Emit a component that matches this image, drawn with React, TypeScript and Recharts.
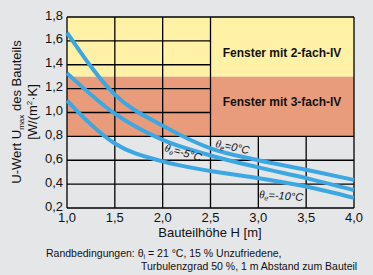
import React from "react";
import { LineChart, Line, XAxis, YAxis, ReferenceArea, ReferenceLine } from "recharts";

const heights = [1.0, 1.5, 2.0, 2.5, 3.0, 3.5, 4.0];
const uTheta0 = [1.67, 1.15, 0.89, 0.7, 0.6, 0.52, 0.435];
const uThetaMinus5 = [1.33, 0.99, 0.77, 0.64, 0.54, 0.45, 0.35];
const uThetaMinus10 = [1.1, 0.74, 0.59, 0.51, 0.45, 0.38, 0.285];
const xTicks = [1.0, 1.5, 2.0, 2.5, 3.0, 3.5, 4.0];
const yTicks = [0.2, 0.4, 0.6, 0.8, 1.0, 1.2, 1.4, 1.6, 1.8];

const data = heights.map((h, i) => ({
  h,
  t0: uTheta0[i],
  t5: uThetaMinus5[i],
  t10: uThetaMinus10[i],
}));

const fmt = (v: number) => v.toFixed(1).replace(".", ",");
const FONT = "'Liberation Sans', Arial, sans-serif";
const BLUE = "#3ca7e2";
const GRID = "#000";

export default function App() {
  const seg = (x1: number, y1: number, x2: number, y2: number, k: string) => (
    <ReferenceLine
      key={k}
      segment={[{ x: x1, y: y1 }, { x: x2, y: y2 }]}
      stroke={GRID}
      strokeWidth={1.3}
      ifOverflow="visible"
    />
  );
  return (
    <div
      style={{
        position: "fixed",
        left: 0,
        top: 0,
        width: 373,
        height: 275,
        background: "#e5e6e8",
        fontFamily: FONT,
      }}
    >
      <LineChart
        width={373}
        height={275}
        data={data}
        margin={{ top: 17, right: 19, bottom: 37, left: 0 }}
      >
        <XAxis
          dataKey="h"
          type="number"
          domain={[1, 4]}
          ticks={xTicks}
          tickFormatter={fmt}
          axisLine={false}
          tickLine={false}
          tickSize={0}
          tickMargin={5}
          height={30}
          tick={{ fill: "#111", fontSize: 13, fontFamily: FONT }}
          interval={0}
        />
        <YAxis
          type="number"
          domain={[0.2, 1.8]}
          ticks={yTicks}
          tickFormatter={fmt}
          axisLine={false}
          tickLine={false}
          tickSize={0}
          tickMargin={4}
          width={67}
          tick={{ fill: "#111", fontSize: 13, fontFamily: FONT, dy: -2 }}
          interval={0}
        />
        <ReferenceArea x1={1} x2={4} y1={1.3} y2={1.8} fill="#fff1a6" fillOpacity={1} stroke="none" ifOverflow="visible" />
        <ReferenceArea x1={1} x2={4} y1={0.8} y2={1.3} fill="#e89c7c" fillOpacity={1} stroke="none" ifOverflow="visible" />
        {[1.5, 2.0, 2.5].map((x) => seg(x, 0.2, x, 1.8, "v" + x))}
        {[3.0, 3.5].map((x) => seg(x, 0.2, x, 0.8, "v" + x))}
        {[0.4, 0.6, 0.8].map((y) => seg(1, y, 4, y, "h" + y))}
        {[1.0, 1.2, 1.4, 1.6].map((y) => seg(1, y, 2.5, y, "h" + y))}
        {seg(1, 0.2, 4, 0.2, "b")}
        {seg(1, 1.8, 4, 1.8, "t")}
        {seg(1, 0.2, 1, 1.8, "l")}
        {seg(4, 0.2, 4, 1.8, "r")}
        <Line dataKey="t0" type="monotone" stroke={BLUE} strokeWidth={4} dot={false} isAnimationActive={false} />
        <Line dataKey="t5" type="monotone" stroke={BLUE} strokeWidth={4} dot={false} isAnimationActive={false} />
        <Line dataKey="t10" type="monotone" stroke={BLUE} strokeWidth={4} dot={false} isAnimationActive={false} />
      </LineChart>
      <svg
        width={373}
        height={275}
        style={{ position: "absolute", left: 0, top: 0, pointerEvents: "none" }}
      >
        <g fontFamily={FONT} fill="#111">
          <text x={282} y={57} textAnchor="middle" fontWeight="bold" fontSize={12}>
            Fenster mit 2-fach-IV
          </text>
          <text x={282} y={106} textAnchor="middle" fontWeight="bold" fontSize={12}>
            Fenster mit 3-fach-IV
          </text>
          <text transform="translate(21,112) rotate(-90)" textAnchor="middle" fontSize={13}>
            U-Wert U<tspan fontSize={8} dy={3}>max</tspan>
            <tspan dy={-3}> des Bauteils</tspan>
          </text>
          <text transform="translate(37,112) rotate(-90)" textAnchor="middle" fontSize={13}>
            [W/(m<tspan fontSize={8} dy={-5}>2</tspan>
            <tspan dy={5}>·K]</tspan>
          </text>
          <text x={210} y={237} textAnchor="middle" fontSize={13}>
            Bauteilhöhe H [m]
          </text>
          <text x={46} y={257} fontSize={10.5}>
            Randbedingungen:  θ<tspan fontSize={7} dy={2}>i</tspan>
            <tspan dy={-2}> = 21 °C, 15 % Unzufriedene,</tspan>
          </text>
          <text x={141} y={270} fontSize={10.5}>
            Turbulenzgrad 50 %, 1 m Abstand zum Bauteil
          </text>
          <text transform="translate(164,151) rotate(16)" fontSize={11} fontStyle="italic">
            <tspan fontFamily="'Liberation Serif', serif">θ</tspan>
            <tspan fontSize={7} dy={2}>e</tspan>
            <tspan dy={-2}>=-5°C</tspan>
          </text>
          <text transform="translate(215,147) rotate(12)" fontSize={11} fontStyle="italic">
            <tspan fontFamily="'Liberation Serif', serif">θ</tspan>
            <tspan fontSize={7} dy={2}>e</tspan>
            <tspan dy={-2}>=0°C</tspan>
          </text>
          <text transform="translate(259,198) rotate(4)" fontSize={11} fontStyle="italic">
            <tspan fontFamily="'Liberation Serif', serif">θ</tspan>
            <tspan fontSize={7} dy={2}>e</tspan>
            <tspan dy={-2}>=-10°C</tspan>
          </text>
        </g>
      </svg>
    </div>
  );
}
